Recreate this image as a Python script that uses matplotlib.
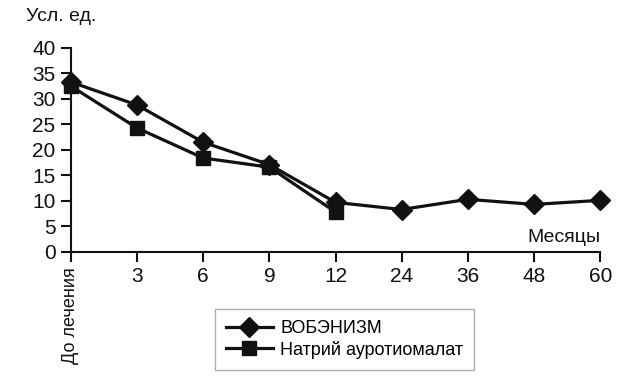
import matplotlib
matplotlib.use("Agg")
import matplotlib.pyplot as plt

categories = ["До лечения", "3", "6", "9", "12", "24", "36", "48", "60"]
vobenzym = [33.3, 28.8, 21.5, 17.1, 9.7, 8.3, 10.3, 9.3, 10.1]
aurothio = [32.5, 24.3, 18.4, 16.6, 7.8]
y_ticks = [0, 5, 10, 15, 20, 25, 30, 35, 40]

plt.rcParams['font.family'] = ['Liberation Sans', 'DejaVu Sans']

fig = plt.figure(figsize=(6.44, 3.77), dpi=100)
ax = fig.add_axes([0.110, 0.332, 0.822, 0.541])

x1 = list(range(len(vobenzym)))
x2 = list(range(len(aurothio)))
ax.plot(x2, aurothio, color='#111111', lw=2.3, marker='s', markersize=10,
        label='Натрий ауротиомалат', clip_on=False, zorder=3)
ax.plot(x1, vobenzym, color='#111111', lw=2.3, marker='D', markersize=10,
        label='ВОБЭНИЗМ', clip_on=False, zorder=4)

ax.set_xlim(0, len(categories) - 1)
ax.set_ylim(0, 40)
ax.set_yticks(y_ticks)
ax.set_xticks(range(len(categories)))
ax.set_xticklabels(categories)
ax.tick_params(axis='both', direction='out', length=7, width=1.5,
               labelsize=15, colors='#111111', pad=4)
first = ax.get_xticklabels()[0]
first.set_rotation(90)
first.set_va('top')
first.set_fontsize(13)

for s in ['top', 'right']:
    ax.spines[s].set_visible(False)
for s in ['left', 'bottom']:
    ax.spines[s].set_linewidth(1.5)
    ax.spines[s].set_color('#111111')

fig.text(0.04, 0.955, 'Усл. ед.', fontsize=14, ha='left', va='center', color='#111111')
ax.text(1.0, 0.03, 'Месяцы', transform=ax.transAxes, fontsize=14,
        ha='right', va='bottom', color='#111111')

handles, labels = ax.get_legend_handles_labels()
leg = fig.legend(handles[::-1], labels[::-1], loc='center left',
                 bbox_to_anchor=(0.334, 0.0995), fontsize=13, frameon=True,
                 fancybox=False, edgecolor='#999999', handlelength=2.6,
                 borderpad=0.6, labelspacing=0.2, handletextpad=0.4,
                 borderaxespad=0)
leg.get_frame().set_linewidth(1.0)

fig.savefig('out.png', dpi=100)
